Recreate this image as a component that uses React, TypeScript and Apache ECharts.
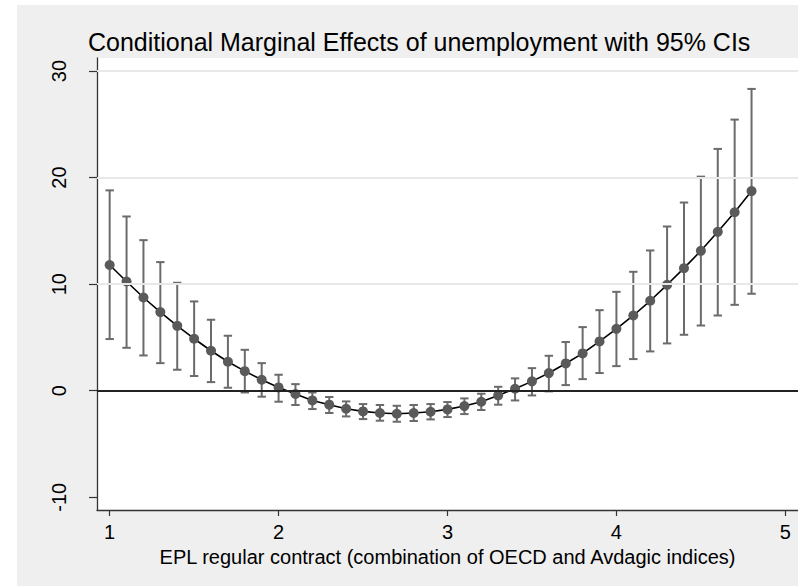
import React, { useEffect, useRef } from 'react';
import * as echarts from 'echarts';

const xValues = [1.0, 1.1, 1.2, 1.3, 1.4, 1.5, 1.6, 1.7, 1.8, 1.9, 2.0, 2.1, 2.2, 2.3, 2.4, 2.5, 2.6, 2.7, 2.8, 2.9, 3.0, 3.1, 3.2, 3.3, 3.4, 3.5, 3.6, 3.7, 3.8, 3.9, 4.0, 4.1, 4.2, 4.3, 4.4, 4.5, 4.6, 4.7, 4.8];
const effects = [11.8, 10.25, 8.75, 7.38, 6.09, 4.88, 3.75, 2.72, 1.84, 1.03, 0.31, -0.31, -0.91, -1.31, -1.69, -1.94, -2.09, -2.16, -2.09, -1.97, -1.75, -1.44, -1.03, -0.44, 0.19, 0.88, 1.66, 2.56, 3.5, 4.63, 5.81, 7.06, 8.44, 9.94, 11.5, 13.13, 14.91, 16.75, 18.73];
const ciLower = [4.85, 4.03, 3.31, 2.59, 1.97, 1.38, 0.81, 0.28, -0.16, -0.56, -1.03, -1.34, -1.72, -2.09, -2.41, -2.66, -2.81, -2.91, -2.84, -2.69, -2.47, -2.19, -1.81, -1.31, -0.91, -0.44, -0.06, 0.53, 1.09, 1.66, 2.31, 2.97, 3.69, 4.44, 5.25, 6.12, 7.06, 8.06, 9.1];
const ciUpper = [18.8, 16.35, 14.13, 12.07, 10.13, 8.38, 6.66, 5.16, 3.84, 2.59, 1.5, 0.62, -0.16, -0.59, -1.0, -1.25, -1.34, -1.41, -1.34, -1.25, -1.06, -0.72, -0.28, 0.37, 1.16, 2.12, 3.28, 4.57, 5.97, 7.56, 9.28, 11.16, 13.16, 15.41, 17.66, 20.09, 22.69, 25.44, 28.32];
const xTicks = [1, 2, 3, 4, 5];
const yTicks = [-10, 0, 10, 20, 30];
const gridLineValues = [10, 20, 30];
const titleText = 'Conditional Marginal Effects of unemployment with 95% CIs';
const xAxisTitle = 'EPL regular contract (combination of OECD and Avdagic indices)';

const FONT = '"Liberation Sans", Arial, sans-serif';

export default function App() {
  const ref = useRef<HTMLDivElement>(null);
  useEffect(() => {
    const chart = echarts.init(ref.current as HTMLDivElement, null, { renderer: 'svg' });
    const errData = xValues.map((x, i) => [x, ciLower[i], ciUpper[i]]);
    const lineData = xValues.map((x, i) => [x, effects[i]]);
    chart.setOption({
      animation: false,
      backgroundColor: '#efefef',
      textStyle: { fontFamily: FONT },
      graphic: [
        { type: 'rect', silent: true, shape: { x: 0, y: 0, width: 17, height: 586 }, style: { fill: '#ffffff' } },
        { type: 'rect', silent: true, shape: { x: 0, y: 0, width: 798, height: 5 }, style: { fill: '#ffffff' } },
        {
          type: 'text', silent: true, x: 88, y: 29,
          style: { text: titleText, fontSize: 25, fontFamily: FONT, fill: '#000000' },
        },
      ],
      grid: { left: 97, top: 58, right: 0, bottom: 76, show: true, backgroundColor: '#ffffff', borderWidth: 0 },
      xAxis: {
        type: 'value', min: 0.925, max: 5.075,
        axisLine: { show: true, onZero: false, lineStyle: { color: '#333333', width: 1.3 } },
        axisTick: { show: true, length: 6, customValues: xTicks, lineStyle: { color: '#333333', width: 1.2 } },
        axisLabel: { customValues: xTicks, fontSize: 20, color: '#000000', margin: 12, fontFamily: FONT },
        splitLine: { show: false },
        name: xAxisTitle, nameLocation: 'middle', nameGap: 35,
        nameTextStyle: { fontSize: 20, color: '#000000', fontFamily: FONT },
      },
      yAxis: {
        type: 'value', min: -11.19, max: 31.22,
        axisLine: { show: true, onZero: false, lineStyle: { color: '#333333', width: 1.3 } },
        axisTick: { show: true, length: 8, customValues: yTicks, lineStyle: { color: '#333333', width: 1.2 } },
        axisLabel: { customValues: yTicks, rotate: 90, fontSize: 20, color: '#000000', margin: 28, fontFamily: FONT },
        splitLine: { show: false },
      },
      series: [
        {
          type: 'custom',
          z: 3,
          data: errData,
          encode: { x: 0, y: [1, 2] },
          renderItem: (params: any, api: any) => {
            const x = api.value(0);
            const lo = api.value(1);
            const hi = api.value(2);
            const pHi = api.coord([x, hi]);
            const pLo = api.coord([x, lo]);
            const hw = 4.2;
            const st = { stroke: '#6b6b6b', lineWidth: 2 };
            return {
              type: 'group',
              children: [
                { type: 'line', shape: { x1: pHi[0], y1: pHi[1], x2: pLo[0], y2: pLo[1] }, style: st },
                { type: 'line', shape: { x1: pHi[0] - hw, y1: pHi[1], x2: pHi[0] + hw, y2: pHi[1] }, style: st },
                { type: 'line', shape: { x1: pLo[0] - hw, y1: pLo[1], x2: pLo[0] + hw, y2: pLo[1] }, style: st },
              ],
            };
          },
          markLine: {
            silent: true, symbol: 'none', label: { show: false },
            data: [
              ...gridLineValues.map((v) => ({ yAxis: v, lineStyle: { color: '#e8e8e8', width: 2, type: 'solid' } })),
              { yAxis: 0, lineStyle: { color: '#222222', width: 2, type: 'solid' } },
            ],
          },
        },
        {
          type: 'line',
          z: 4,
          data: lineData,
          symbol: 'circle',
          symbolSize: 10,
          itemStyle: { color: '#5a5a5a' },
          lineStyle: { color: '#000000', width: 1.6 },
        },
      ],
    });
    return () => chart.dispose();
  }, []);
  return <div ref={ref} style={{ position: 'absolute', left: 0, top: 0, width: 798, height: 586 }} />;
}
